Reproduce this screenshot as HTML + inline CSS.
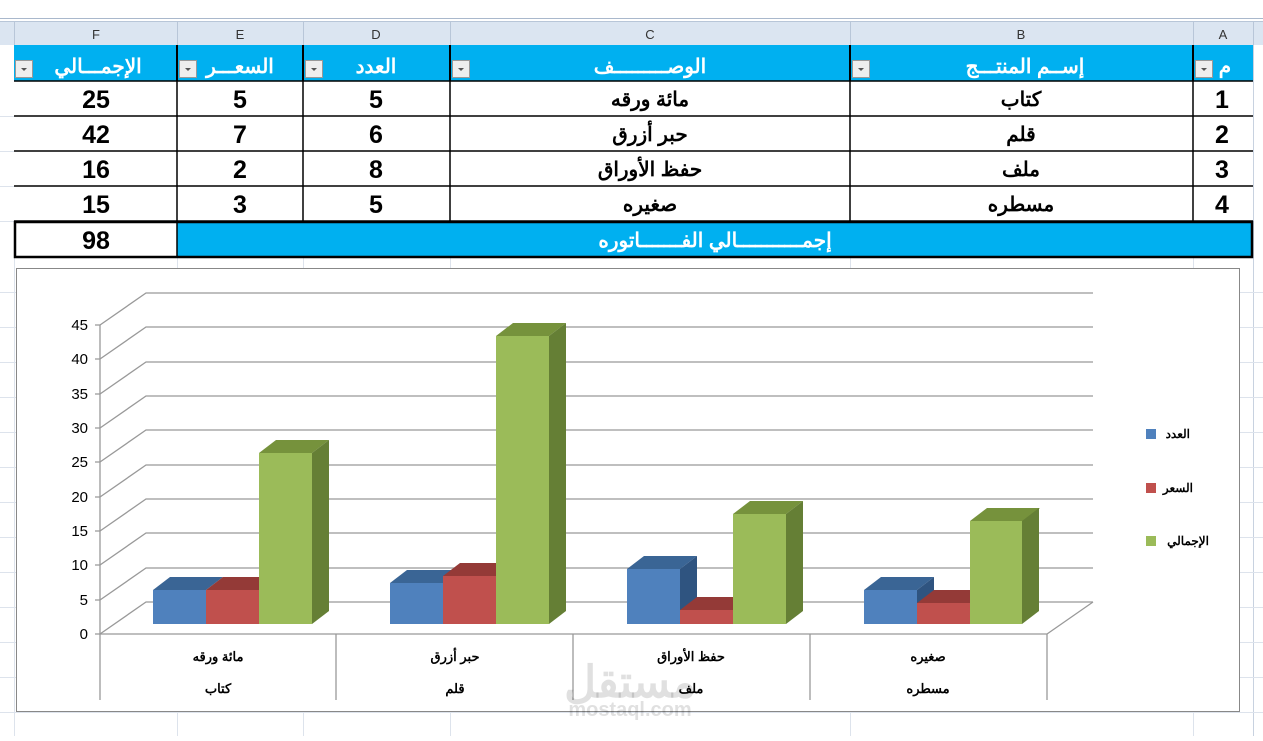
<!DOCTYPE html>
<html><head><meta charset="utf-8"><style>
body{margin:0;width:1263px;height:736px;overflow:hidden;background:#fff;font-family:"Liberation Sans","Noto Sans CJK SC",sans-serif}
svg text{font-family:"Liberation Sans","Noto Sans CJK SC",sans-serif}
</style></head><body>
<svg width="1263" height="736" viewBox="0 0 1263 736" xmlns="http://www.w3.org/2000/svg">
<rect x="0" y="0" width="1263" height="18" fill="#fff"/>
<line x1="0" y1="18.5" x2="1263" y2="18.5" stroke="#a9b8cc"/>
<rect x="0" y="22" width="1263" height="23" fill="#dbe5f1"/>
<line x1="0" y1="21.5" x2="1263" y2="21.5" stroke="#b8c6d8"/>
<g stroke="#b8c6d8">
<line x1="14.5" y1="22" x2="14.5" y2="45"/><line x1="177.5" y1="22" x2="177.5" y2="45"/>
<line x1="303.5" y1="22" x2="303.5" y2="45"/><line x1="450.5" y1="22" x2="450.5" y2="45"/>
<line x1="850.5" y1="22" x2="850.5" y2="45"/><line x1="1193.5" y1="22" x2="1193.5" y2="45"/>
<line x1="1253.5" y1="22" x2="1253.5" y2="45"/>
</g>
<g font-size="13" fill="#333" text-anchor="middle">
<text x="96" y="39">F</text><text x="240" y="39">E</text><text x="376" y="39">D</text>
<text x="650" y="39">C</text><text x="1021" y="39">B</text><text x="1223" y="39">A</text>
</g>
<line x1="1253.5" y1="45" x2="1253.5" y2="736" stroke="#c8d2e0"/>
<line x1="14.5" y1="257" x2="14.5" y2="736" stroke="#dde3ec"/>
<g stroke="#dde3ec">
<line x1="0" y1="292.5" x2="1263" y2="292.5"/><line x1="0" y1="327.5" x2="1263" y2="327.5"/>
<line x1="0" y1="362.5" x2="1263" y2="362.5"/><line x1="0" y1="397.5" x2="1263" y2="397.5"/>
<line x1="0" y1="432.5" x2="1263" y2="432.5"/><line x1="0" y1="467.5" x2="1263" y2="467.5"/>
<line x1="0" y1="502.5" x2="1263" y2="502.5"/><line x1="0" y1="537.5" x2="1263" y2="537.5"/>
<line x1="0" y1="572.5" x2="1263" y2="572.5"/><line x1="0" y1="607.5" x2="1263" y2="607.5"/>
<line x1="0" y1="642.5" x2="1263" y2="642.5"/><line x1="0" y1="677.5" x2="1263" y2="677.5"/>
<line x1="0" y1="712.5" x2="1263" y2="712.5"/>
<line x1="0" y1="116.5" x2="14" y2="116.5"/><line x1="0" y1="151.5" x2="14" y2="151.5"/>
<line x1="0" y1="186.5" x2="14" y2="186.5"/><line x1="0" y1="221.5" x2="14" y2="221.5"/>
<line x1="177.5" y1="257" x2="177.5" y2="736"/><line x1="303.5" y1="257" x2="303.5" y2="736"/>
<line x1="450.5" y1="257" x2="450.5" y2="736"/><line x1="850.5" y1="257" x2="850.5" y2="736"/>
<line x1="1193.5" y1="257" x2="1193.5" y2="736"/>
</g>
<rect x="14" y="45" width="1239" height="36" fill="#00b0f0"/>
<g stroke="#000" stroke-width="2">
<line x1="177" y1="45" x2="177" y2="81"/><line x1="303" y1="45" x2="303" y2="81"/>
<line x1="450" y1="45" x2="450" y2="81"/><line x1="850" y1="45" x2="850" y2="81"/>
<line x1="1193" y1="45" x2="1193" y2="81"/>
</g>
<g fill="#eee" stroke="#999">
<rect x="15.5" y="60.5" width="17" height="17"/><rect x="179.5" y="60.5" width="17" height="17"/>
<rect x="305.5" y="60.5" width="17" height="17"/><rect x="452.5" y="60.5" width="17" height="17"/>
<rect x="852.5" y="60.5" width="17" height="17"/><rect x="1195.5" y="60.5" width="17" height="17"/>
</g>
<g fill="#555">
<path d="M21 68l6 0-3 3z"/><path d="M185 68l6 0-3 3z"/><path d="M311 68l6 0-3 3z"/>
<path d="M458 68l6 0-3 3z"/><path d="M858 68l6 0-3 3z"/><path d="M1201 68l6 0-3 3z"/>
</g>
<g font-size="20" font-weight="bold" fill="#fff" text-anchor="middle" direction="rtl">
<text x="98" y="73">الإجمـــالي</text><text x="240" y="73">السعـــر</text>
<text x="376" y="73">العدد</text><text x="650" y="73">الوصـــــــــف</text>
<text x="1025" y="73">إســم المنتـــج</text><text x="1225" y="73">م</text>
</g>
<rect x="14" y="81" width="1239" height="176" fill="#fff"/>
<rect x="177" y="221" width="1076" height="36" fill="#00b0f0"/>
<g stroke="#000" stroke-width="1.5">
<line x1="14" y1="81" x2="1253" y2="81"/><line x1="14" y1="116" x2="1253" y2="116"/>
<line x1="14" y1="151" x2="1253" y2="151"/><line x1="14" y1="186" x2="1253" y2="186"/>
<line x1="14" y1="221" x2="1253" y2="221"/>
<line x1="177" y1="81" x2="177" y2="257"/><line x1="303" y1="81" x2="303" y2="221"/>
<line x1="450" y1="81" x2="450" y2="221"/><line x1="850" y1="81" x2="850" y2="221"/>
<line x1="1193" y1="81" x2="1193" y2="221"/>
</g>
<g stroke="#000" stroke-width="2.5" fill="none">
<rect x="15" y="222" width="1237" height="35"/>
</g>
<g font-size="25" font-weight="bold" fill="#000" text-anchor="middle">
<text x="96" y="108">25</text><text x="240" y="108">5</text><text x="376" y="108">5</text><text x="1222" y="108">1</text>
<text x="96" y="143">42</text><text x="240" y="143">7</text><text x="376" y="143">6</text><text x="1222" y="143">2</text>
<text x="96" y="178">16</text><text x="240" y="178">2</text><text x="376" y="178">8</text><text x="1222" y="178">3</text>
<text x="96" y="213">15</text><text x="240" y="213">3</text><text x="376" y="213">5</text><text x="1222" y="213">4</text>
<text x="96" y="249">98</text>
</g>
<g font-size="20" font-weight="bold" fill="#000" text-anchor="middle" direction="rtl">
<text x="650" y="106">مائة ورقه</text><text x="650" y="141">حبر أزرق</text>
<text x="650" y="176">حفظ الأوراق</text><text x="650" y="211">صغيره</text>
<text x="1021" y="106">كتاب</text><text x="1021" y="141">قلم</text>
<text x="1021" y="176">ملف</text><text x="1021" y="211">مسطره</text>
<text x="715" y="247" fill="#fff">إجمـــــــــــالي الفـــــــاتوره</text>
</g>
<rect x="16.5" y="268.5" width="1223" height="443" fill="#fff" stroke="#888"/>
<g stroke="#999" stroke-width="1.3" fill="none">
<path d="M100 634L146 602H1093"/><path d="M100 600L146 568H1093"/><path d="M100 565L146 533H1093"/>
<path d="M100 531L146 499H1093"/><path d="M100 497L146 465H1093"/><path d="M100 462L146 430H1093"/>
<path d="M100 428L146 396H1093"/><path d="M100 394L146 362H1093"/><path d="M100 359L146 327H1093"/>
<path d="M100 325L146 293H1093"/>
<path d="M1093 602L1047 634H100"/>
<line x1="100" y1="325" x2="100" y2="700"/>
<line x1="336" y1="634" x2="336" y2="700"/><line x1="573" y1="634" x2="573" y2="700"/>
<line x1="810" y1="634" x2="810" y2="700"/><line x1="1047" y1="634" x2="1047" y2="700"/>
<path d="M95 634H100M95 600H100M95 565H100M95 531H100M95 497H100M95 462H100M95 428H100M95 394H100M95 359H100M95 325H100"/>
</g>
<g font-size="15" fill="#000" text-anchor="end">
<text x="88" y="639">0</text><text x="88" y="605">5</text><text x="88" y="570">10</text>
<text x="88" y="536">15</text><text x="88" y="502">20</text><text x="88" y="467">25</text>
<text x="88" y="433">30</text><text x="88" y="399">35</text><text x="88" y="364">40</text><text x="88" y="330">45</text>
</g>
<g>
<path d="M153 590l17-13h53l-17 13z" fill="#3a6595"/><rect x="153" y="590" width="53" height="34" fill="#4f81bd"/>
<path d="M206 590l17-13h53l-17 13z" fill="#943a37"/><path d="M259 590l17-13v34l-17 13z" fill="#8c3a37"/><rect x="206" y="590" width="53" height="34" fill="#c0504d"/>
<path d="M259 453l17-13h53l-17 13z" fill="#76923c"/><path d="M312 453l17-13v171l-17 13z" fill="#657f35"/><rect x="259" y="453" width="53" height="171" fill="#9bbb59"/>
<path d="M390 583l17-13h53l-17 13z" fill="#3a6595"/><rect x="390" y="583" width="53" height="41" fill="#4f81bd"/>
<path d="M443 576l17-13h53l-17 13z" fill="#943a37"/><rect x="443" y="576" width="53" height="48" fill="#c0504d"/>
<path d="M496 336l17-13h53l-17 13z" fill="#76923c"/><path d="M549 336l17-13v288l-17 13z" fill="#657f35"/><rect x="496" y="336" width="53" height="288" fill="#9bbb59"/>
<path d="M627 569l17-13h53l-17 13z" fill="#3a6595"/><path d="M680 569l17-13v55l-17 13z" fill="#2f5480"/><rect x="627" y="569" width="53" height="55" fill="#4f81bd"/>
<path d="M680 610l17-13h53l-17 13z" fill="#943a37"/><rect x="680" y="610" width="53" height="14" fill="#c0504d"/>
<path d="M733 514l17-13h53l-17 13z" fill="#76923c"/><path d="M786 514l17-13v110l-17 13z" fill="#657f35"/><rect x="733" y="514" width="53" height="110" fill="#9bbb59"/>
<path d="M864 590l17-13h53l-17 13z" fill="#3a6595"/><path d="M917 590l17-13v34l-17 13z" fill="#2f5480"/><rect x="864" y="590" width="53" height="34" fill="#4f81bd"/>
<path d="M917 603l17-13h53l-17 13z" fill="#943a37"/><rect x="917" y="603" width="53" height="21" fill="#c0504d"/>
<path d="M970 521l17-13h53l-17 13z" fill="#76923c"/><path d="M1022 521l17-13v103l-17 13z" fill="#657f35"/><rect x="970" y="521" width="52" height="103" fill="#9bbb59"/>
</g>
<g font-size="13" font-weight="bold" fill="#000" text-anchor="middle" direction="rtl">
<text x="218" y="661">مائة ورقه</text><text x="218" y="693">كتاب</text>
<text x="455" y="661">حبر أزرق</text><text x="455" y="693">قلم</text>
<text x="691" y="661">حفظ الأوراق</text><text x="691" y="693">ملف</text>
<text x="928" y="661">صغيره</text><text x="928" y="693">مسطره</text>
</g>
<rect x="1146" y="429" width="10" height="10" fill="#4f81bd"/>
<rect x="1146" y="483" width="10" height="10" fill="#c0504d"/>
<rect x="1146" y="536" width="10" height="10" fill="#9bbb59"/>
<g font-size="12" font-weight="bold" fill="#000" direction="rtl">
<text x="1190" y="438">العدد</text><text x="1193" y="492">السعر</text><text x="1209" y="545">الإجمالي</text>
</g>
<text x="630" y="697" font-size="44" font-weight="bold" fill="#000" fill-opacity="0.12" text-anchor="middle" direction="rtl">مستقل</text>
<text x="630" y="716" font-size="20" font-weight="bold" fill="#000" fill-opacity="0.12" text-anchor="middle">mostaql.com</text>
</svg>
</body></html>
